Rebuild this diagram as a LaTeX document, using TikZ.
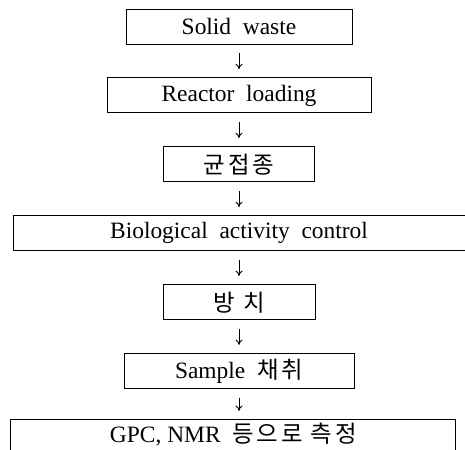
\documentclass[tikz,border=0pt]{standalone}
\usepackage{fontspec}
\setmainfont{Liberation Serif}
\newfontfamily\kor[LetterSpace=12]{Noto Sans CJK KR}
\usetikzlibrary{positioning, arrows.meta}

\begin{document}
\begin{tikzpicture}[
            x=0.03cm, y=0.03cm,
            box/.style={rectangle, draw, line width=0.8pt, inner sep=0pt,
                        minimum height=1.05cm, font=\fontsize{20}{23}\selectfont, align=center},
            arrow/.style={-{To[length=4.5pt, width=6pt]}, line width=0.8pt,
                        shorten <=0.25cm, shorten >=0.25cm},
            node distance=0.99cm,
        ]
            \useasboundingbox (0,0) rectangle (465,-450);

            % Steps from top to bottom
            \node[box, minimum width=6.78cm] at (239,-26.5) (waste)   {Solid\ \ waste};
            \node[box, minimum width=7.92cm, below=of waste]  (load)  {Reactor\ \ loading};
            \node[box, minimum width=4.53cm, below=of load]   (inoc)  {\kor 균접종};
            \node[box, minimum width=13.56cm, below=of inoc]  (bio)   {Biological\ \ activity\ \ control};
            \node[box, minimum width=4.56cm, below=of bio]    (rest)  {\kor 방 치};
            \node[box, minimum width=6.9cm, below=of rest]    (samp)  {Sample\ \ {\kor 채취}};
            \node[box, minimum width=13.35cm, minimum height=1.1cm, below=0.9cm of samp, xshift=-0.17cm,
                  text depth=0.3cm] (meas)
                {GPC,\ NMR\ \ {\kor 등으로\ 측정}};

            % Arrows between the steps
            \draw[arrow] (waste) -- (load);
            \draw[arrow] (load)  -- (inoc);
            \draw[arrow] (inoc)  -- (bio);
            \draw[arrow] (bio)   -- (rest);
            \draw[arrow] (rest)  -- (samp);
            \draw[arrow] (samp)  -- (meas.north -| samp.south);
        \end{tikzpicture}
\end{document}
